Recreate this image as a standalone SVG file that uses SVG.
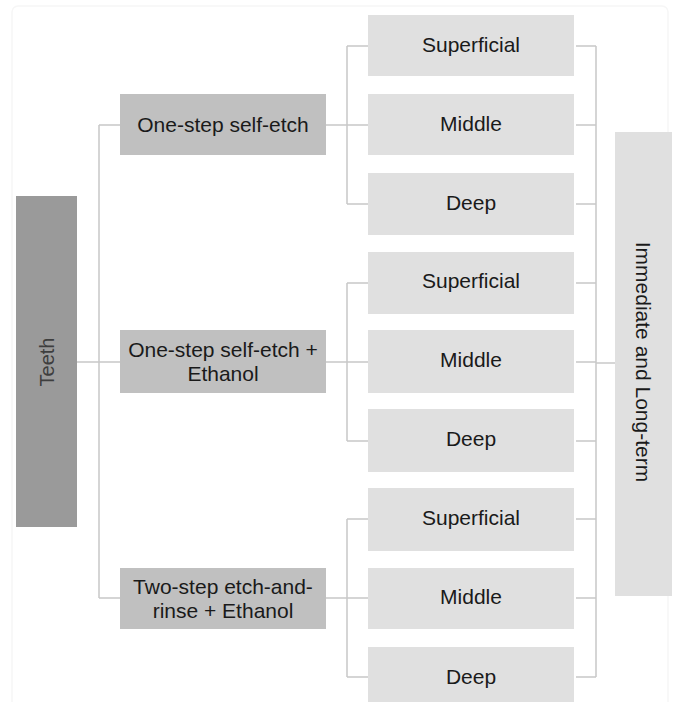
<svg xmlns="http://www.w3.org/2000/svg" width="678" height="702" viewBox="0 0 678 702">
<style>
text{font-family:"Liberation Sans",Arial,sans-serif;font-size:21px;fill:#1a1a1a;text-anchor:middle}
.leaf{fill:#e0e0e0}
.mid{fill:#c0c0c0}
.root{fill:#9a9a9a}
.c{stroke:#c8c8c8;stroke-width:1.5;fill:none}
</style>
<rect x="12" y="6" width="656" height="720" rx="6" fill="#ffffff" stroke="#f6f6f6" stroke-width="1.5"/>
<g id="connectors">
<path class="c" d="M77 362H120M99 125V598M99 125H120M99 598H120"/>
<path class="c" d="M326 125H368M347 46V204M347 46H368M347 204H368"/>
<path class="c" d="M326 362H368M347 283V441M347 283H368M347 441H368"/>
<path class="c" d="M326 598H368M347 519V677M347 519H368M347 677H368"/>
<path class="c" d="M576 46H596M576 125H596M576 204H596M576 283H596M576 362H596M576 441H596M576 519H596M576 598H596M576 677H596M596 46V677"/>
<path class="c" d="M596 363H615" stroke-width="2.5"/>
</g>
<g id="teeth"><rect class="root" x="16" y="196" width="61" height="331"/><text transform="translate(54 362) rotate(-90)" style="fill:#3e3e3e;font-size:20px">Teeth</text></g>
<g id="g1"><rect class="mid" x="120" y="94" width="206" height="61"/><text x="223" y="132">One-step self-etch</text></g>
<g id="g2"><rect class="mid" x="120" y="330" width="206" height="63"/><text x="223" y="357">One-step self-etch +</text><text x="223" y="381">Ethanol</text></g>
<g id="g3"><rect class="mid" x="120" y="568" width="206" height="61"/><text x="223" y="594">Two-step etch-and-</text><text x="223" y="618">rinse + Ethanol</text></g>
<g id="l1"><rect class="leaf" x="368" y="15" width="206" height="61"/><text x="471" y="52">Superficial</text></g>
<g id="l2"><rect class="leaf" x="368" y="94" width="206" height="61"/><text x="471" y="131">Middle</text></g>
<g id="l3"><rect class="leaf" x="368" y="173" width="206" height="62"/><text x="471" y="210">Deep</text></g>
<g id="l4"><rect class="leaf" x="368" y="252" width="206" height="62"/><text x="471" y="288">Superficial</text></g>
<g id="l5"><rect class="leaf" x="368" y="330" width="206" height="63"/><text x="471" y="367">Middle</text></g>
<g id="l6"><rect class="leaf" x="368" y="409" width="206" height="63"/><text x="471" y="446">Deep</text></g>
<g id="l7"><rect class="leaf" x="368" y="488" width="206" height="63"/><text x="471" y="525">Superficial</text></g>
<g id="l8"><rect class="leaf" x="368" y="568" width="206" height="61"/><text x="471" y="604">Middle</text></g>
<g id="l9"><rect class="leaf" x="368" y="647" width="206" height="62"/><text x="471" y="684">Deep</text></g>
<g id="imm"><rect class="leaf" x="615" y="132" width="57" height="464"/><text transform="translate(636 362) rotate(90)">Immediate and Long-term</text></g>
</svg>
